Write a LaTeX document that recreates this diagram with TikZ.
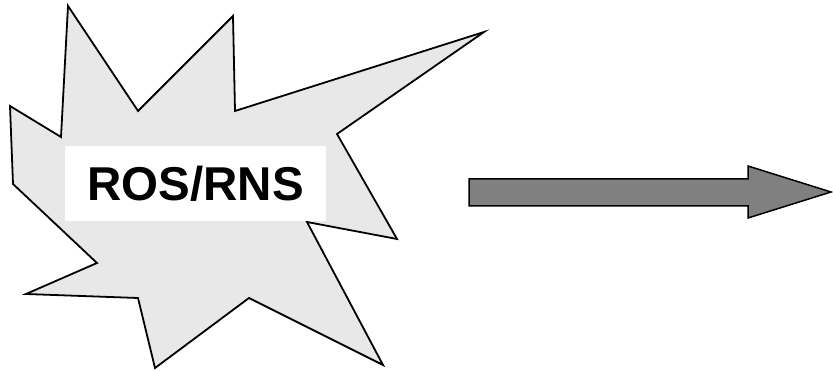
\documentclass[tikz,border=0pt]{standalone}
\usepackage{fontspec}
\setmainfont{Liberation Sans}
\begin{document}
\begin{tikzpicture}[x=1pt,y=-1pt,
  burst/.style={draw=black,line width=1.8pt,fill=black!9,line join=miter},
  bigarrow/.style={draw=black,line width=1.5pt,fill=black!50,line join=miter},
  label/.style={fill=white,inner sep=0pt,minimum width=261pt,minimum height=75pt,font=\fontsize{47.5}{50}\selectfont\bfseries}]
\useasboundingbox (0,0) rectangle (833,371);
\draw[burst] (68,6) -- (138,111) -- (233,16) -- (235,111) -- (484,32) -- (337,134)
  -- (397,239) -- (307,222) -- (383,365) -- (249,298) -- (155,368) -- (138,298)
  -- (26,294) -- (97,263) -- (13,184) -- (10,106) -- (61,137) -- cycle;
\node[label] (ros) at (195.5,183.5) {ROS/RNS};
\draw[bigarrow] (469,179) -- (748,179) -- (748,166) -- (831,192) -- (748,218)
  -- (748,206) -- (469,206) -- cycle;
\end{tikzpicture}
\end{document}
